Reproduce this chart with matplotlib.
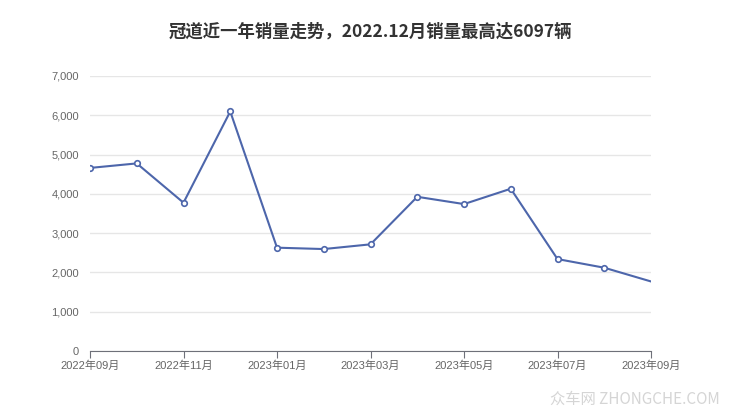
import matplotlib
matplotlib.use("Agg")
import matplotlib.pyplot as plt
from matplotlib.ticker import FuncFormatter

plt.rcParams['font.family'] = ['Liberation Sans', 'Noto Sans CJK SC', 'DejaVu Sans']

months = ["2022年09月", "2022年10月", "2022年11月", "2022年12月", "2023年01月", "2023年02月",
          "2023年03月", "2023年04月", "2023年05月", "2023年06月", "2023年07月", "2023年08月",
          "2023年09月"]
sales = [4660, 4775, 3775, 6097, 2630, 2595, 2715, 3925, 3740, 4130, 2340, 2120, 1770]
yticks = [0, 1000, 2000, 3000, 4000, 5000, 6000, 7000]
title = "冠道近一年销量走势，2022.12月销量最高达6097辆"

fig = plt.figure(figsize=(7.4, 4.17), dpi=100)
ax = fig.add_axes([90/740, 1-351/417, (651-90)/740, (351-76)/417])

x = list(range(len(months)))
color = '#4d66ab'
ax.plot(x, sales, color=color, lw=1.5, zorder=3)
ax.plot(x[:-1], sales[:-1], ls='none', marker='o', ms=4, mfc='white', mec=color, mew=1.2, zorder=4)

ax.set_xlim(0, len(months) - 1)
ax.set_ylim(0, 7000)
ax.set_yticks(yticks)
ax.yaxis.set_major_formatter(FuncFormatter(lambda v, p: f"{int(v):,}"))
ax.set_xticks(x[::2])
ax.set_xticklabels(months[::2])
ax.grid(axis='y', color='#e6e6e6', lw=1)
ax.set_axisbelow(True)
for s in ['top', 'right', 'left']:
    ax.spines[s].set_visible(False)
ax.spines['bottom'].set_color('#6e7079')
ax.tick_params(axis='y', length=0, labelsize=8, labelcolor='#666666', pad=8)
ax.tick_params(axis='x', length=5, color='#6e7079', labelsize=8, labelcolor='#666666', pad=2)

fig.text(370/740, 1-32/417, title, ha='center', va='center', fontsize=12.5, fontweight='bold',
         color='#333333', family=['Noto Sans CJK SC', 'DejaVu Sans'])
fig.text(720/740, 1-399/417, "众车网 ZHONGCHE.COM", ha='right', va='center', fontsize=11,
         color='#d5d5d5', family=['Noto Sans CJK SC', 'DejaVu Sans'])

fig.savefig("out.png", dpi=100)
